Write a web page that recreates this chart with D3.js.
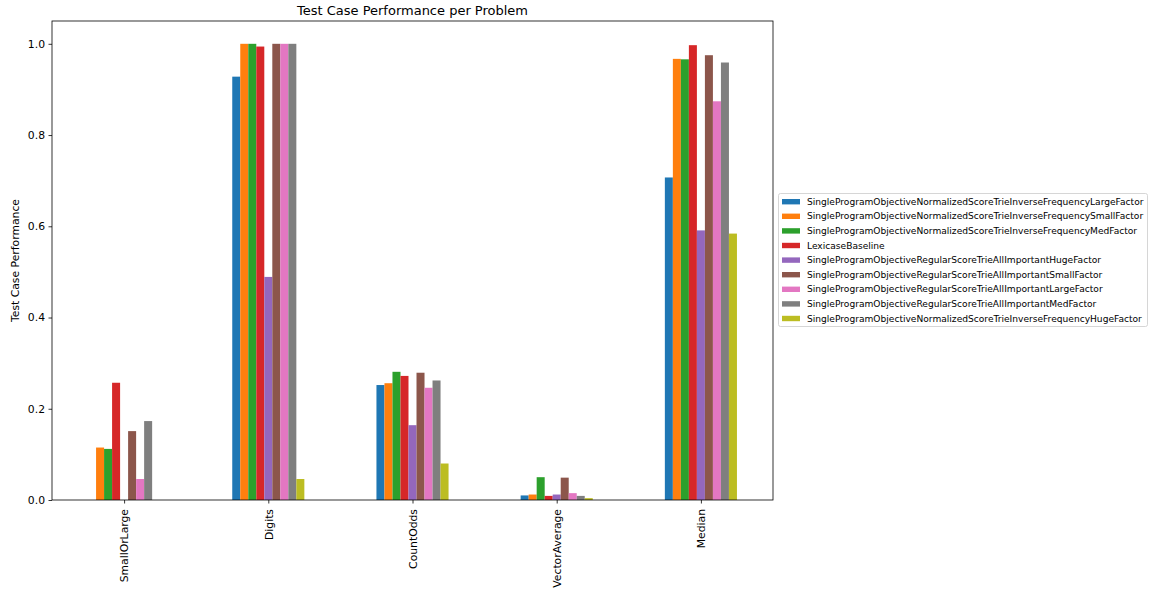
<!DOCTYPE html>
<html>
<head>
<meta charset="utf-8">
<script src="https://cdn.jsdelivr.net/npm/d3@7"></script>
<style>
  body { margin: 0; background: #fff; }
  svg { display: block; font-family: "DejaVu Sans", sans-serif; }
</style>
</head>
<body>
<svg id="chart" width="1151" height="590"></svg>
<script>
// Problems on the x axis
const problems = ["SmallOrLarge", "Digits", "CountOdds", "VectorAverage", "Median"];

// Selection methods (legend order)
const methods = [
  "SingleProgramObjectiveNormalizedScoreTrieInverseFrequencyLargeFactor",
  "SingleProgramObjectiveNormalizedScoreTrieInverseFrequencySmallFactor",
  "SingleProgramObjectiveNormalizedScoreTrieInverseFrequencyMedFactor",
  "LexicaseBaseline",
  "SingleProgramObjectiveRegularScoreTrieAllImportantHugeFactor",
  "SingleProgramObjectiveRegularScoreTrieAllImportantSmallFactor",
  "SingleProgramObjectiveRegularScoreTrieAllImportantLargeFactor",
  "SingleProgramObjectiveRegularScoreTrieAllImportantMedFactor",
  "SingleProgramObjectiveNormalizedScoreTrieInverseFrequencyHugeFactor"
];

// Test case performance per method, one value per problem
const largeFactorNorm  = [0.000, 0.928, 0.252, 0.010, 0.707];
const smallFactorNorm  = [0.115, 1.000, 0.256, 0.012, 0.967];
const medFactorNorm    = [0.112, 1.000, 0.281, 0.050, 0.966];
const lexicaseBaseline = [0.257, 0.994, 0.272, 0.009, 0.997];
const hugeFactorReg    = [0.000, 0.489, 0.164, 0.012, 0.591];
const smallFactorReg   = [0.151, 1.000, 0.279, 0.049, 0.975];
const largeFactorReg   = [0.046, 1.000, 0.246, 0.015, 0.874];
const medFactorReg     = [0.173, 1.000, 0.262, 0.009, 0.959];
const hugeFactorNorm   = [0.000, 0.046, 0.080, 0.004, 0.584];

const seriesValues = [largeFactorNorm, smallFactorNorm, medFactorNorm, lexicaseBaseline,
  hugeFactorReg, smallFactorReg, largeFactorReg, medFactorReg, hugeFactorNorm];

const yTicks = [0.0, 0.2, 0.4, 0.6, 0.8, 1.0];

const colors = ["#1f77b4", "#ff7f0e", "#2ca02c", "#d62728", "#9467bd",
                "#8c564b", "#e377c2", "#7f7f7f", "#bcbd22"];

const svg = d3.select("#chart");
const plot = { left: 52, right: 773, top: 21, bottom: 500 };

const yMax = d3.max(seriesValues.flat()) * 1.05;
const y = d3.scaleLinear().domain([0, yMax]).range([plot.bottom, plot.top]);
const x = d3.scaleLinear().domain([-0.5, problems.length - 0.5]).range([plot.left, plot.right]);

const groupWidth = 0.5;
const barW = groupWidth / methods.length;

// Bars
const g = svg.append("g");
seriesValues.forEach((vals, si) => {
  g.selectAll(null)
    .data(vals.map((v, pi) => ({ v, pi })))
    .join("rect")
    .attr("x", d => x(d.pi - groupWidth / 2 + si * barW))
    .attr("width", x(barW) - x(0))
    .attr("y", d => y(d.v))
    .attr("height", d => y(0) - y(d.v))
    .attr("fill", colors[si]);
});

// Y axis
const yAxis = svg.append("g")
  .attr("transform", `translate(${plot.left},0)`)
  .call(d3.axisLeft(y).tickValues(yTicks).tickFormat(d3.format(".1f")).tickSizeOuter(0).tickSize(3.5).tickPadding(3.5));

// X axis
const xAxis = svg.append("g")
  .attr("transform", `translate(0,${plot.bottom})`)
  .call(d3.axisBottom(x).tickValues(d3.range(problems.length)).tickFormat(i => problems[i]).tickSizeOuter(0).tickSize(3.5));

[yAxis, xAxis].forEach(a => {
  a.select(".domain").remove();
  a.selectAll(".tick line").attr("stroke", "#000").attr("stroke-width", 0.8);
  a.selectAll(".tick text").attr("fill", "#000").style("font-size", "10.8px").style("font-family", "DejaVu Sans");
});

xAxis.selectAll(".tick text")
  .attr("transform", "rotate(-90)")
  .attr("text-anchor", "end")
  .attr("dy", "0.35em")
  .attr("x", -9)
  .attr("y", 0);

// Frame
svg.append("rect")
  .attr("x", plot.left).attr("y", plot.top)
  .attr("width", plot.right - plot.left).attr("height", plot.bottom - plot.top)
  .attr("fill", "none").attr("stroke", "#000").attr("stroke-width", 0.8);

// Title and axis label
svg.append("text")
  .attr("x", (plot.left + plot.right) / 2).attr("y", 15)
  .attr("text-anchor", "middle")
  .style("font-size", "13px")
  .text("Test Case Performance per Problem");

svg.append("text")
  .attr("transform", `translate(19,${(plot.top + plot.bottom) / 2}) rotate(-90)`)
  .attr("text-anchor", "middle")
  .style("font-size", "10.8px")
  .text("Test Case Performance");

// Legend
const legend = svg.append("g");
legend.append("rect")
  .attr("x", 778.5).attr("y", 193.5)
  .attr("width", 369).attr("height", 133)
  .attr("rx", 2)
  .attr("fill", "#fff").attr("stroke", "#ccc").attr("stroke-width", 0.8);

const rowH = 14.6;
methods.forEach((m, i) => {
  const cy = 201.7 + i * rowH;
  legend.append("rect")
    .attr("x", 782).attr("y", cy - 2.7)
    .attr("width", 18).attr("height", 5.4)
    .attr("fill", colors[i]);
  legend.append("text")
    .attr("x", 807).attr("y", cy)
    .attr("dy", "0.35em")
    .style("font-size", "9.1px")
    .text(m);
});
</script>
</body>
</html>
